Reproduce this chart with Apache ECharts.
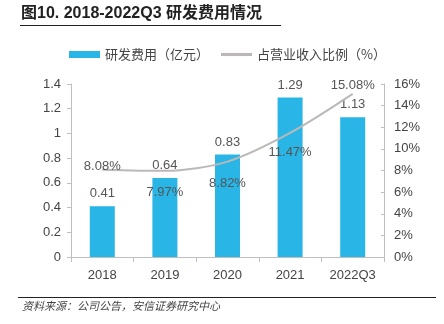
<!DOCTYPE html>
<html><head><meta charset="utf-8">
<script src="https://cdn.jsdelivr.net/npm/echarts@6/dist/echarts.min.js"></script>
<style>html,body{margin:0;padding:0;background:#fff}#c{width:444px;height:324px}</style>
</head><body><div id="c"></div>
<script>
const categories = ['2018','2019','2020','2021','2022Q3'];
const rdExpense = [0.41, 0.64, 0.83, 1.29, 1.13];
const rdRatio = [8.08, 7.97, 8.82, 11.47, 15.08];
const leftTicks = [0, 0.2, 0.4, 0.6, 0.8, 1, 1.2, 1.4];
const rightTicks = [0, 2, 4, 6, 8, 10, 12, 14, 16];
const ratioLabelOffsets = [[0,9],[0,10],[0,10],[0,8],[0,3]];
const ratioLabelPos = ['top','bottom','bottom','bottom','top'];

const chart = echarts.init(document.getElementById('c'));
const font = '"Liberation Sans", Arial, sans-serif';
chart.setOption({
  animation: false,
  textStyle: {fontFamily: font},
  graphic: [
    {type:'text', left: 21, top: 6, style:{text:'图10. 2018-2022Q3 研发费用情况', font:'bold 16px "Liberation Sans","Noto Sans CJK SC",sans-serif', fill:'#222'}},
    {type:'line', shape:{x1:20,y1:25.5,x2:281,y2:25.5}, style:{stroke:'#222', lineWidth:1}},
    {type:'line', shape:{x1:18,y1:297.5,x2:436,y2:297.5}, style:{stroke:'#222', lineWidth:1}},
    {type:'text', left: 22, top: 300, style:{text:'资料来源：公司公告，安信证券研究中心', font:'italic 11px "Noto Sans CJK SC",sans-serif', fill:'#444'}}
  ],
  legend: {
    top: 43, left: 64, itemGap: 12, itemWidth: 31, itemHeight: 7,
    textStyle: {fontSize: 13, color: '#444', fontFamily: '"Noto Sans CJK SC",sans-serif'},
    data: [
      {name:'研发费用（亿元）', icon:'rect'},
      {name:'占营业收入比例（%）', icon:'path://M0,0H10V1H0Z', itemStyle:{color:'#bdb8b8', opacity:1}}
    ]
  },
  grid: {left: 71, right: 60, top: 84, bottom: 67},
  xAxis: {
    type: 'category', data: categories,
    axisLine: {lineStyle: {color: '#bfbfbf'}},
    axisTick: {show: true, lineStyle: {color: '#bfbfbf'}},
    axisLabel: {color: '#444', fontSize: 13, margin: 12}
  },
  yAxis: [
    {type:'value', min:0, max:1.4, interval:0.2,
     axisLine:{show:true, lineStyle:{color:'#bfbfbf'}},
     axisTick:{show:true, inside:false, length:4, lineStyle:{color:'#bfbfbf'}},
     splitLine:{show:false},
     axisLabel:{color:'#444', fontSize:13, margin:10, formatter: v => String(+v.toFixed(1))}},
    {type:'value', min:0, max:16, interval:2,
     axisLine:{show:true, lineStyle:{color:'#bfbfbf'}},
     axisTick:{show:true, inside:true, length:3, lineStyle:{color:'#bfbfbf'}},
     splitLine:{show:false},
     axisLabel:{color:'#444', fontSize:13, margin:10, formatter: v => v + '%'}}
  ],
  series: [
    {name:'研发费用（亿元）', type:'bar', data: rdExpense, barWidth: 25,
     itemStyle:{color:'#29b5e6'},
     label:{show:true, position:'top', distance:6, color:'#555', fontSize:13,
       formatter: p => p.value.toFixed(2)}},
    {name:'占营业收入比例（%）', type:'line', yAxisIndex:1, data: rdRatio.map((v,i)=>({
        value:v, label:{show:true, position: ratioLabelPos[i], offset: ratioLabelOffsets[i]}})),
     smooth: 0.3, symbol:'circle', symbolSize: 0.5, showSymbol: true,
     itemStyle:{color:'#bdb8b8'},
     lineStyle:{color:'#bdb8b8', width:2},
     label:{show:true, color:'#555', fontSize:13, formatter: p => p.value.toFixed(2)+'%'}}
  ]
});
</script></body></html>
